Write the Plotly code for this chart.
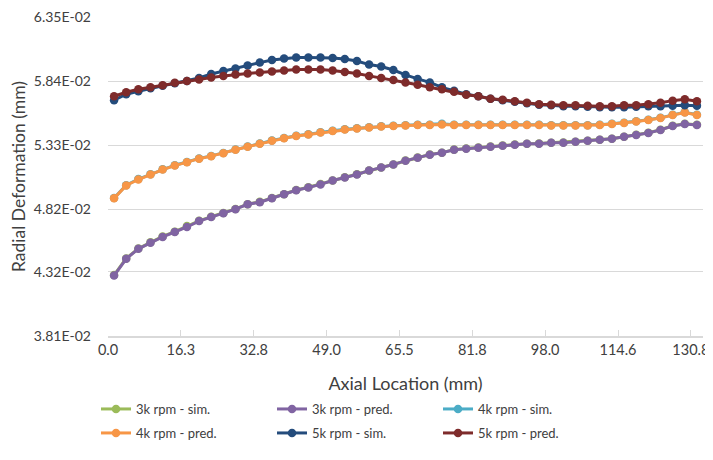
import plotly.graph_objects as go

# 49 categories along the axial direction; labels shown every 6th category
tick_labels = ["0.0", "16.3", "32.8", "49.0", "65.5", "81.8", "98.0", "114.6", "130.8"]
y_ticks = [0.0381, 0.0432, 0.0482, 0.0533, 0.0584, 0.0635]
y_tick_text = ["3.81E-02", "4.32E-02", "4.82E-02", "5.33E-02", "5.84E-02", "6.35E-02"]

pred_3k = [0.04291, 0.04425, 0.04504, 0.04552, 0.04599, 0.04638, 0.04678, 0.04725, 0.04757, 0.04788,
           0.04820, 0.04859, 0.04875, 0.04907, 0.04938, 0.04970, 0.04993, 0.05017, 0.05048, 0.05072,
           0.05096, 0.05127, 0.05151, 0.05175, 0.05206, 0.05230, 0.05254, 0.05269, 0.05293, 0.05301,
           0.05309, 0.05317, 0.05325, 0.05332, 0.05340, 0.05340, 0.05348, 0.05348, 0.05356, 0.05364,
           0.05372, 0.05380, 0.05396, 0.05411, 0.05427, 0.05451, 0.05482, 0.05498, 0.05490]
sim_3k = [0.04295, 0.04428, 0.04506, 0.04556, 0.04603, 0.04641, 0.04686, 0.04727, 0.04760, 0.04790,
          0.04822, 0.04860, 0.04878, 0.04909, 0.04939, 0.04972, 0.04994, 0.05020, 0.05049, 0.05074,
          0.05098, 0.05128, 0.05152, 0.05176, 0.05207, 0.05232, 0.05255, 0.05270, 0.05294, 0.05303,
          0.05310, 0.05318, 0.05326, 0.05334, 0.05341, 0.05342, 0.05349, 0.05350, 0.05357, 0.05365,
          0.05373, 0.05381, 0.05397, 0.05412, 0.05429, 0.05452, 0.05484, 0.05500, 0.05492]
pred_4k = [0.04906, 0.05009, 0.05056, 0.05096, 0.05135, 0.05167, 0.05194, 0.05222, 0.05242, 0.05265,
           0.05293, 0.05317, 0.05340, 0.05364, 0.05384, 0.05403, 0.05415, 0.05431, 0.05443, 0.05455,
           0.05463, 0.05470, 0.05478, 0.05482, 0.05486, 0.05490, 0.05490, 0.05494, 0.05490, 0.05490,
           0.05490, 0.05490, 0.05490, 0.05490, 0.05490, 0.05490, 0.05486, 0.05486, 0.05486, 0.05486,
           0.05490, 0.05498, 0.05506, 0.05518, 0.05530, 0.05545, 0.05569, 0.05589, 0.05569]
sim_4k = [0.04908, 0.05011, 0.05060, 0.05098, 0.05137, 0.05170, 0.05196, 0.05224, 0.05244, 0.05267,
          0.05295, 0.05319, 0.05342, 0.05366, 0.05386, 0.05405, 0.05417, 0.05433, 0.05445, 0.05457,
          0.05465, 0.05472, 0.05480, 0.05484, 0.05488, 0.05492, 0.05492, 0.05500, 0.05492, 0.05492,
          0.05492, 0.05492, 0.05492, 0.05492, 0.05492, 0.05492, 0.05488, 0.05488, 0.05488, 0.05488,
          0.05492, 0.05500, 0.05508, 0.05520, 0.05532, 0.05547, 0.05571, 0.05591, 0.05571]
sim_5k = [0.05687, 0.05735, 0.05758, 0.05782, 0.05802, 0.05822, 0.05841, 0.05865, 0.05896, 0.05920,
          0.05940, 0.05964, 0.05987, 0.06007, 0.06019, 0.06027, 0.06027, 0.06027, 0.06023, 0.06015,
          0.05999, 0.05971, 0.05956, 0.05928, 0.05889, 0.05857, 0.05829, 0.05790, 0.05762, 0.05735,
          0.05719, 0.05699, 0.05687, 0.05676, 0.05664, 0.05652, 0.05648, 0.05640, 0.05640, 0.05636,
          0.05632, 0.05632, 0.05632, 0.05636, 0.05640, 0.05640, 0.05644, 0.05648, 0.05644]
pred_5k = [0.05719, 0.05751, 0.05774, 0.05790, 0.05806, 0.05826, 0.05841, 0.05853, 0.05869, 0.05881,
           0.05893, 0.05900, 0.05908, 0.05916, 0.05924, 0.05932, 0.05932, 0.05932, 0.05924, 0.05912,
           0.05900, 0.05881, 0.05865, 0.05849, 0.05829, 0.05810, 0.05790, 0.05774, 0.05755, 0.05731,
           0.05719, 0.05699, 0.05691, 0.05680, 0.05668, 0.05656, 0.05652, 0.05648, 0.05648, 0.05644,
           0.05640, 0.05640, 0.05648, 0.05648, 0.05656, 0.05668, 0.05684, 0.05695, 0.05680]

series = [
    ("3k rpm - sim.", sim_3k, "#9BBB59"),
    ("3k rpm - pred.", pred_3k, "#8064A2"),
    ("4k rpm - sim.", sim_4k, "#4BACC6"),
    ("4k rpm - pred.", pred_4k, "#F79646"),
    ("5k rpm - sim.", sim_5k, "#244C7C"),
    ("5k rpm - pred.", pred_5k, "#7E2B2B"),
]

# the page body adds an 8px offset, so the figure itself is 8px smaller each way
W, H = 705, 452
# legend slot (left x, row centre y) in figure pixels, three columns by two rows
legend_cols = [88, 264, 430]
legend_rows = [401, 425]

n = len(pred_3k)
categories = list(range(n))
legend_ids = ["legend"] + ["legend%d" % (k + 1) for k in range(1, len(series))]

fig = go.Figure()
for k, (name, vals, color) in enumerate(series):
    fig.add_trace(go.Scatter(
        x=categories, y=vals, name=name, mode="lines+markers",
        line=dict(color=color, width=3),
        marker=dict(color=color, size=8.5),
        legend=legend_ids[k],
    ))

font_family = "Lato, 'Open Sans', sans-serif"
text_color = "#404040"
tick_positions = [c - 0.5 for c in categories[::6]]

legends = {}
for k, lid in enumerate(legend_ids):
    xpx = legend_cols[k % 3]
    ypx = legend_rows[k // 3]
    legends[lid] = dict(orientation="h", x=xpx / W, xref="container", y=1 - ypx / H, yref="container",
                        xanchor="left", yanchor="middle", font=dict(size=13, color=text_color),
                        itemwidth=30, bgcolor="rgba(0,0,0,0)")

fig.update_layout(
    width=W, height=H,
    margin=dict(l=100, r=10, t=9, b=124),
    paper_bgcolor="white", plot_bgcolor="white",
    font=dict(family=font_family, color=text_color, size=13),
    xaxis=dict(
        range=[-0.5, n - 0.5], tickmode="array", tickvals=tick_positions, ticktext=tick_labels,
        showgrid=False, showline=True, linecolor="#d9d9d9", linewidth=1.5,
        ticks="inside", ticklen=6, tickcolor="#d9d9d9", automargin=False,
        tickfont=dict(size=14.5), zeroline=False, ticklabeloverflow="allow",
        title=dict(text="Axial Location (mm)", font=dict(size=18), standoff=20),
    ),
    yaxis=dict(
        range=[0.0381, 0.0635], tickmode="array", tickvals=y_ticks, ticktext=y_tick_text,
        showgrid=True, gridcolor="#d9d9d9", gridwidth=1.2, showline=False, zeroline=False,
        ticks="", tickfont=dict(size=14), ticklabelstandoff=16, automargin=False,
        ticklabeloverflow="allow",
        title=dict(text="Radial Deformation (mm)", font=dict(size=17.5), standoff=10),
    ),
    showlegend=True,
    **legends,
)

fig.write_html("out.html")
